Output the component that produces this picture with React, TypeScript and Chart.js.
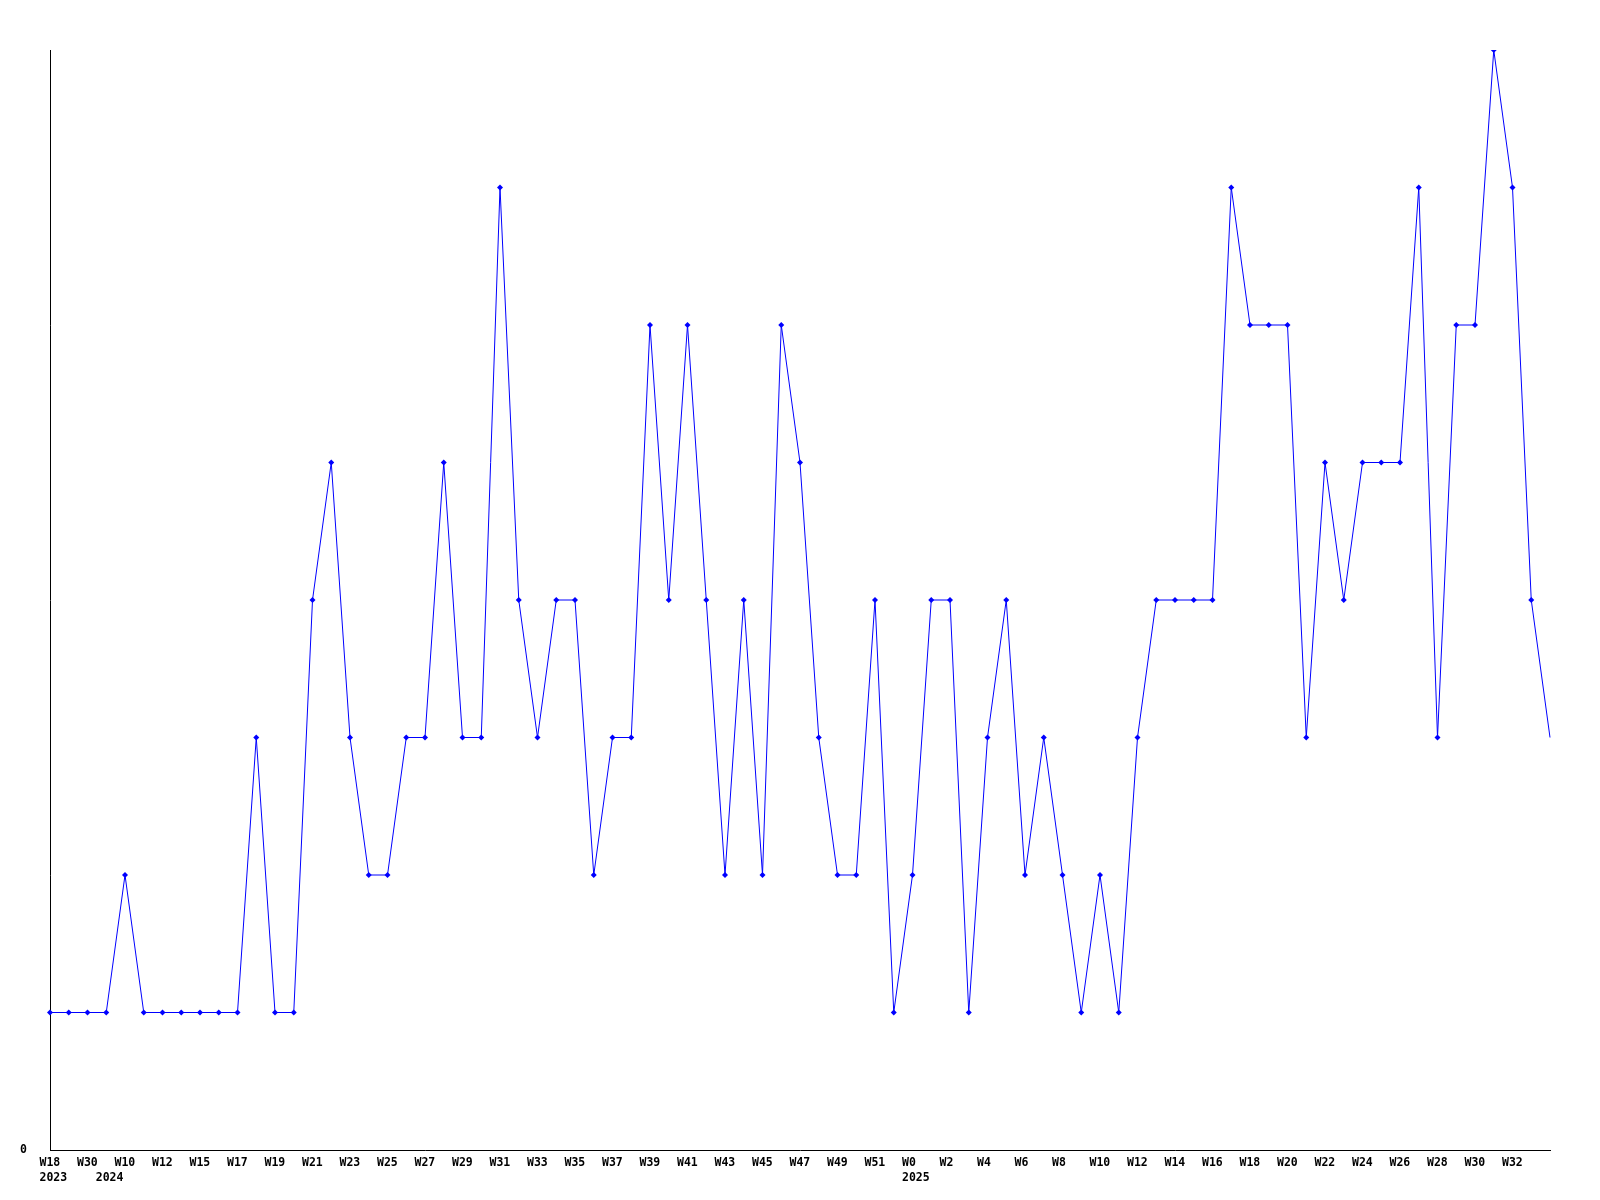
import React, { useEffect, useRef } from "react";
import { Chart, registerables } from "chart.js";

Chart.register(...registerables);

const weekLabels: string[] = [
  "W18", "W25", "W30", "W1", "W10", "W11", "W12", "W14", "W15", "W16",
  "W17", "W18", "W19", "W20", "W21", "W22", "W23", "W24", "W25", "W26",
  "W27", "W28", "W29", "W30", "W31", "W32", "W33", "W34", "W35", "W36",
  "W37", "W38", "W39", "W40", "W41", "W42", "W43", "W44", "W45", "W46",
  "W47", "W48", "W49", "W50", "W51", "W52", "W0", "W1", "W2", "W3",
  "W4", "W5", "W6", "W7", "W8", "W9", "W10", "W11", "W12", "W13",
  "W14", "W15", "W16", "W17", "W18", "W19", "W20", "W21", "W22", "W23",
  "W24", "W25", "W26", "W27", "W28", "W29", "W30", "W31", "W32", "W33",
  "W34",
];

// Year shown under the first point of each year
const yearLabels: string[] = weekLabels.map((_, i) =>
  i === 0 ? "2023" : i === 3 ? "2024" : i === 46 ? "2025" : ""
);

const values: number[] = [
  1, 1, 1, 1, 2, 1, 1, 1, 1, 1,
  1, 3, 1, 1, 4, 5, 3, 2, 2, 3,
  3, 5, 3, 3, 7, 4, 3, 4, 4, 2,
  3, 3, 6, 4, 6, 4, 2, 4, 2, 6,
  5, 3, 2, 2, 4, 1, 2, 4, 4, 1,
  3, 4, 2, 3, 2, 1, 2, 1, 3, 4,
  4, 4, 4, 7, 6, 6, 6, 3, 5, 4,
  5, 5, 5, 7, 3, 6, 6, 8, 7, 4,
  3,
];

const yMax = 8;

export default function App() {
  const ref = useRef<HTMLCanvasElement | null>(null);

  useEffect(() => {
    document.body.style.margin = "0";
    const canvas = ref.current;
    if (!canvas) return;
    const font = { family: "'DejaVu Sans Mono', monospace", size: 11.5, weight: "bold" as const, lineHeight: 1.3 };
    const last = weekLabels.length - 1;
    const chart = new Chart(canvas, {
      type: "line",
      data: {
        labels: weekLabels.map((w, i) => [i % 2 === 0 && i !== last ? w : "", yearLabels[i]]),
        datasets: [
          {
            data: values,
            borderColor: "#0000ff",
            backgroundColor: "#0000ff",
            borderWidth: 1,
            tension: 0,
            pointStyle: "rectRot",
            pointRadius: values.map((_, i) => (i === last ? 0 : 3)),
            pointBorderWidth: 0,
            pointBackgroundColor: "#0000ff",
          },
        ],
      },
      options: {
        responsive: false,
        animation: false,
        layout: { padding: { top: 50, right: 50, left: 0, bottom: 0 } },
        plugins: { legend: { display: false }, tooltip: { enabled: false } },
        scales: {
          x: {
            offset: false,
            grid: { display: false },
            border: { display: true, color: "#000", width: 1 },
            ticks: {
              autoSkip: false,
              maxRotation: 0,
              minRotation: 0,
              align: "start",
              labelOffset: -10.5,
              padding: -2,
              color: "#000",
              font,
            },
            afterFit: (s: any) => {
              s.height = 50;
            },
          },
          y: {
            min: 0,
            max: yMax,
            grid: { display: false },
            border: { display: true, color: "#000", width: 1 },
            ticks: {
              stepSize: 1,
              padding: 15,
              color: "#000",
              font,
              callback: (v: any) => (v === 0 ? "0" : ""),
            },
            afterFit: (s: any) => {
              s.width = 50;
            },
          },
        },
      },
    });
    return () => chart.destroy();
  }, []);

  return (
    <div style={{ width: 1600, height: 1200, background: "#fff" }}>
      <canvas ref={ref} width={1600} height={1200} style={{ display: "block" }} />
    </div>
  );
}
